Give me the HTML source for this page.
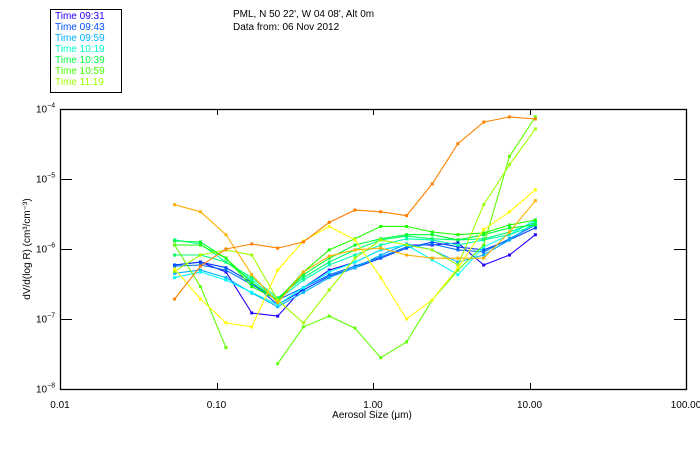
<!DOCTYPE html>
<html><head><meta charset="utf-8"><style>
body{margin:0;background:#fff;}
svg{display:block;font-family:"Liberation Sans",sans-serif;}
</style></head><body>
<svg id="chart" width="700" height="450">
<rect x="0" y="0" width="700" height="450" fill="#fff"/>
<g id="legend">
<rect x="50.5" y="9.5" width="71" height="83" fill="none" stroke="#000" stroke-width="1"/>
</g>
<text x="233" y="17" font-size="10" fill="#000">PML, N 50 22', W 04 08', Alt 0m</text>
<text x="233" y="30" font-size="10" fill="#000">Data from: 06 Nov 2012</text>
<g id="axes"></g>
<g id="plot"></g>
<text x="372" y="418" font-size="10" text-anchor="middle">Aerosol Size (μm)</text>
<text transform="translate(30,249) rotate(-90)" font-size="10" text-anchor="middle">dV/d(log R) (cm³/cm⁻³)</text>
</svg>
<script>
const sizes=[0.054,0.079,0.115,0.168,0.246,0.359,0.525,0.767,1.12,1.64,2.39,3.49,5.1,7.45,10.9];
const xTickVals=[0.01,0.1,1,10,100];
const xTickLabels=["0.01","0.10","1.00","10.00","100.00"];
const yTickExps=[-4,-5,-6,-7,-8];
const legendLabels=["Time 09:31","Time 09:43","Time 09:59","Time 10:19","Time 10:39","Time 10:59","Time 11:19"];
const legendColors=["#2000ff","#0050ff","#00b0ff","#00ffc8","#00ff40","#40ff00","#a0ff00"];
const s0931=[5.9e-7,6.5e-7,4.7e-7,1.22e-7,1.1e-7,2.8e-7,5.0e-7,6.5e-7,9.7e-7,1.14e-6,1.14e-6,1.22e-6,5.9e-7,8.2e-7,1.6e-6];
const s0943=[5.9e-7,6.5e-7,5.4e-7,3.3e-7,1.6e-7,2.6e-7,4.1e-7,5.4e-7,7.4e-7,1.03e-6,1.26e-6,1.07e-6,9.7e-7,1.35e-6,2.0e-6];
const s0951=[5.7e-7,5.9e-7,5.0e-7,3.1e-7,1.87e-7,2.8e-7,4.3e-7,5.7e-7,7.7e-7,1.07e-6,1.18e-6,9.7e-7,9.1e-7,1.4e-6,2.2e-6];
const s0959=[4.5e-7,5.0e-7,3.9e-7,2.35e-7,1.5e-7,2.4e-7,3.9e-7,5.4e-7,8.2e-7,1.18e-6,9.7e-7,6.5e-7,8.2e-7,1.35e-6,2.4e-6];
const s1009=[3.9e-7,4.7e-7,3.6e-7,2.4e-7,1.6e-7,2.8e-7,4.7e-7,6.5e-7,9.7e-7,1.14e-6,7.0e-7,4.3e-7,1.07e-6,1.6e-6,2.6e-6];
const s1019=[1.35e-6,1.18e-6,6.5e-7,3.6e-7,1.87e-7,3.6e-7,5.9e-7,8.2e-7,1.14e-6,1.4e-6,1.35e-6,1.14e-6,1.35e-6,1.6e-6,2.2e-6];
const s1029=[8.2e-7,8.2e-7,6.5e-7,3.9e-7,2.0e-7,3.9e-7,6.5e-7,9.7e-7,1.35e-6,1.53e-6,1.4e-6,1.35e-6,1.4e-6,1.75e-6,2.4e-6];
const s1039=[1.3e-6,1.26e-6,7.4e-7,3.3e-7,1.87e-7,4.3e-7,7.4e-7,1.14e-6,1.4e-6,1.6e-6,1.6e-6,1.35e-6,1.6e-6,2.0e-6,2.2e-6];
const s1049=[1.14e-6,1.14e-6,7.4e-7,2.9e-7,1.87e-7,4.7e-7,9.7e-7,1.4e-6,2.1e-6,2.1e-6,1.75e-6,1.6e-6,1.7e-6,2.2e-6,2.6e-6];
const s1059=[1.14e-6,2.9e-7,3.9e-8,null,2.3e-8,7.7e-8,1.1e-7,7.4e-8,2.8e-8,4.7e-8,1.87e-7,5.0e-7,1.14e-6,2.1e-5,7.7e-5];
const s1119=[4.8e-7,8.2e-7,9.7e-7,8.2e-7,1.87e-7,8.8e-8,2.6e-7,7.4e-7,1.35e-6,1.14e-6,9.7e-7,5.9e-7,4.3e-6,1.6e-5,5.2e-5];
const s1139=[5.2e-7,1.93e-7,8.8e-8,7.7e-8,5.0e-7,1.3e-6,2.1e-6,1.35e-6,3.9e-7,1.0e-7,1.87e-7,5.4e-7,1.9e-6,3.4e-6,7.0e-6];
const s1159=[4.3e-6,3.4e-6,1.6e-6,4.3e-7,1.7e-7,4.7e-7,7.9e-7,9.7e-7,1.03e-6,8.2e-7,7.4e-7,7.4e-7,7.4e-7,1.75e-6,4.9e-6];
const s1219=[1.93e-7,5.7e-7,1.0e-6,1.18e-6,1.03e-6,1.26e-6,2.4e-6,3.6e-6,3.4e-6,3.0e-6,8.5e-6,3.2e-5,6.5e-5,7.7e-5,7.2e-5];
const seriesList=[s0931,s0943,s0951,s0959,s1009,s1019,s1029,s1039,s1049,s1059,s1119,s1139,s1159,s1219];
const seriesColors=["#2000ff","#0040ff","#0070ff","#00b0ff","#00ffff","#00ffb0","#00ff70","#00ff30","#20ff00","#60ff00","#a0ff00","#ffff00","#ffb000","#ff8000"];

const NS="http://www.w3.org/2000/svg";
const L=60,R=686,T=109,B=389;
function xs(v){return L+(Math.log10(v)+2)*156.5;}
function ys(v){return T+(-4-Math.log10(v))*70;}
function mk(tag,attrs,parent){const e=document.createElementNS(NS,tag);for(const k in attrs)e.setAttribute(k,attrs[k]);parent.appendChild(e);return e;}
const axes=document.getElementById('axes'),plot=document.getElementById('plot'),leg=document.getElementById('legend');
const frame=mk('rect',{x:L+.5,y:T+.5,width:R-L,height:B-T,fill:'none',stroke:'#000','stroke-width':1.3},axes);


xTickVals.forEach((v,i)=>{
  const x=Math.round(xs(v))+.5;
  if(i>0&&i<xTickVals.length-1){
    const t1=mk('line',{x1:x,x2:x,y1:B,y2:B-6,stroke:'#000'},axes);
    
    
    const t2=mk('line',{x1:x,x2:x,y1:T,y2:T+6,stroke:'#000'},axes);
    
    
  }
  const t=mk('text',{x:xs(v),y:408,'font-size':10,'text-anchor':'middle'},axes);
  t.textContent=xTickLabels[i];
  
  
});
yTickExps.forEach((e,i)=>{
  const y=Math.round(ys(Math.pow(10,e)))+.5;
  if(i>0&&i<yTickExps.length-1){
    const t1=mk('line',{x1:L,x2:L+12,y1:y,y2:y,stroke:'#000'},axes);
    
    
    const t2=mk('line',{x1:R,x2:R-12,y1:y,y2:y,stroke:'#000'},axes);
    
    
  }
  const t=mk('text',{x:36,y:y+3,'font-size':10},axes);
  t.textContent='10';
  const sp=mk('tspan',{dy:-5,'font-size':7},t);
  sp.textContent=String(e).replace('-','−');
  
  
});
legendLabels.forEach((lab,i)=>{
  const t=mk('text',{x:55,y:19+i*11,'font-size':10,fill:legendColors[i]},leg);
  t.textContent=lab;
  
  
});
seriesList.forEach((s,si)=>{
  const g=mk('g',{},plot);
  
  
  let pts=[];
  const flush=()=>{if(pts.length>1){mk('polyline',{points:pts.join(' '),fill:'none',stroke:seriesColors[si],'stroke-width':1.1},g);}pts=[];};
  s.forEach((v,i)=>{if(v==null){flush();return;}pts.push(xs(sizes[i]).toFixed(1)+','+ys(v).toFixed(1));});
  flush();
  s.forEach((v,i)=>{if(v==null)return;
    const m=mk('rect',{x:xs(sizes[i])-1.5,y:ys(v)-1.5,width:3,height:3,fill:seriesColors[si]},g);
    
    
  });
});
</script>
</body></html>
